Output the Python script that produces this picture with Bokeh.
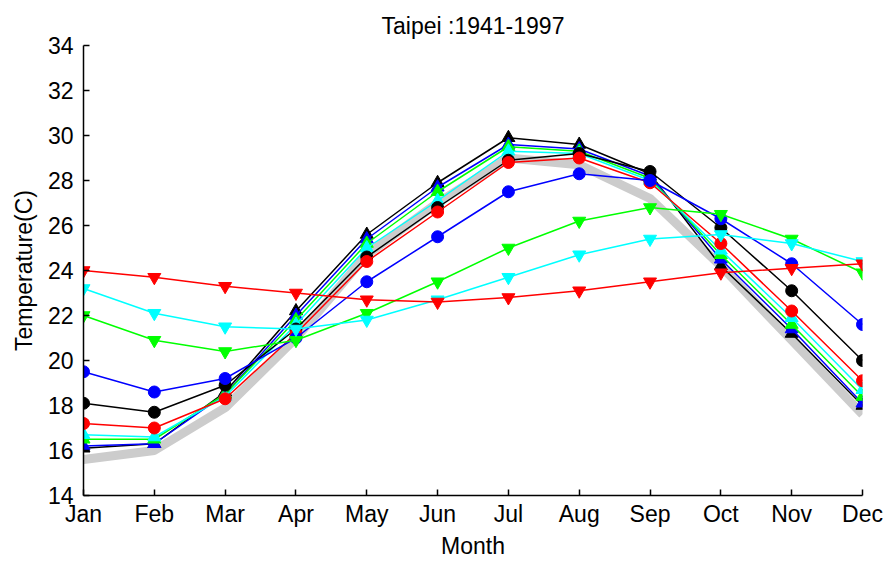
from bokeh.plotting import figure
from bokeh.models import FixedTicker, Range1d
from bokeh.embed import file_html
from bokeh.resources import INLINE

# Monthly mean temperatures, Taipei 1941-1997
months = ["Jan", "Feb", "Mar", "Apr", "May", "Jun",
          "Jul", "Aug", "Sep", "Oct", "Nov", "Dec"]
month_idx = list(range(1, 13))

air_temp = [15.6, 16.0, 17.9, 21.0, 24.7, 27.0, 29.0, 28.7, 27.2, 24.2, 20.9, 17.6]

tri_up_black = [16.1, 16.3, 18.6, 22.2, 25.6, 27.9, 29.9, 29.6, 28.3, 24.2, 21.2, 18.0]
tri_up_blue = [16.2, 16.3, 18.5, 22.0, 25.4, 27.7, 29.6, 29.4, 28.2, 24.5, 21.4, 18.1]
tri_up_green = [16.5, 16.5, 18.5, 21.8, 25.2, 27.5, 29.5, 29.3, 28.1, 24.7, 21.6, 18.4]
tri_up_cyan = [16.7, 16.6, 18.4, 21.6, 25.0, 27.1, 29.3, 29.2, 28.0, 24.9, 21.9, 18.7]
circ_black = [18.1, 17.7, 18.9, 21.4, 24.6, 26.8, 28.9, 29.2, 28.4, 25.9, 23.1, 20.0]
circ_red = [17.2, 17.0, 18.3, 21.2, 24.4, 26.6, 28.8, 29.0, 27.9, 25.2, 22.2, 19.1]
circ_blue = [19.5, 18.6, 19.2, 21.0, 23.5, 25.5, 27.5, 28.3, 28.0, 26.3, 24.3, 21.6]
tri_down_green = [22.0, 20.9, 20.4, 20.9, 22.1, 23.5, 25.0, 26.2, 26.8, 26.5, 25.4, 23.9]
tri_down_cyan = [23.2, 22.1, 21.5, 21.4, 21.8, 22.7, 23.7, 24.7, 25.4, 25.6, 25.2, 24.4]
tri_down_red = [24.0, 23.7, 23.3, 23.0, 22.7, 22.6, 22.8, 23.1, 23.5, 23.9, 24.1, 24.3]

y_ticks = list(range(14, 35, 2))

FONT = "Liberation Sans"
FSIZE = "23px"

p = figure(width=883, height=563, output_backend="svg", toolbar_location=None,
           x_range=Range1d(1, 12), y_range=Range1d(14, 34),
           min_border_left=83, min_border_right=21,
           min_border_top=45, min_border_bottom=68)

p.title.text = "Taipei :1941-1997"
p.title.align = "center"
p.title.vertical_align = "top"
p.title.text_font = FONT
p.title.text_font_size = FSIZE
p.title.text_font_style = "normal"
p.title.text_color = "black"
p.title.offset = 0
p.title.standoff = 10

p.outline_line_color = None
p.xgrid.visible = False
p.ygrid.visible = False
p.background_fill_color = "white"
p.border_fill_color = "white"

for ax in (p.xaxis[0], p.yaxis[0]):
    ax.major_tick_in = 6
    ax.major_tick_out = 0
    ax.minor_tick_line_color = None
    ax.axis_line_color = "black"
    ax.axis_line_width = 1.5
    ax.major_tick_line_color = "black"
    ax.major_tick_line_width = 1.5
    ax.major_label_text_font = FONT
    ax.major_label_text_font_size = FSIZE
    ax.major_label_text_color = "black"
    ax.axis_label_text_font = FONT
    ax.axis_label_text_font_size = FSIZE
    ax.axis_label_text_font_style = "normal"
    ax.axis_label_text_color = "black"

p.xaxis.ticker = FixedTicker(ticks=month_idx)
p.xaxis.major_label_overrides = {i: m for i, m in zip(month_idx, months)}
p.xaxis.axis_label = "Month"
p.xaxis.major_label_standoff = 5
p.xaxis.axis_label_standoff = 3

p.yaxis.ticker = FixedTicker(ticks=y_ticks)
p.yaxis.axis_label = "Temperature(C)"
p.yaxis.major_label_standoff = 10
p.yaxis.axis_label_standoff = 8

# thick grey reference curve underneath
p.line(month_idx, air_temp, line_color="#cccccc", line_width=9)

series = [
    (tri_up_black, "black", "triangle"),
    (tri_up_blue, "blue", "triangle"),
    (tri_up_green, "#00ff00", "triangle"),
    (tri_up_cyan, "cyan", "triangle"),
    (circ_black, "black", "circle"),
    (circ_red, "red", "circle"),
    (circ_blue, "blue", "circle"),
    (tri_down_green, "#00ff00", "inverted_triangle"),
    (tri_down_cyan, "cyan", "inverted_triangle"),
    (tri_down_red, "red", "inverted_triangle"),
]

for vals, color, marker in series:
    p.line(month_idx, vals, line_color=color, line_width=1.5)
    p.scatter(month_idx, vals, marker=marker, size=12 if marker == "circle" else 13,
              fill_color=color, line_color=color)

open("out.html", "w").write(file_html(p, INLINE))
